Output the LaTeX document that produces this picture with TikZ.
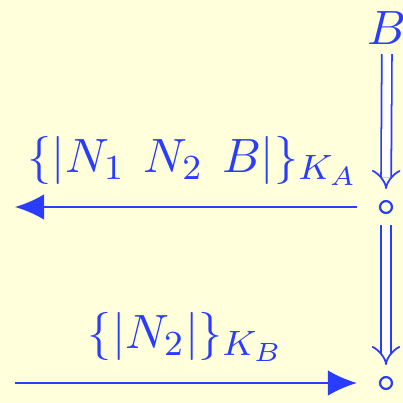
\documentclass[11pt,tikz,border=0pt]{standalone}
\usepackage{amssymb}
\usetikzlibrary{arrows.meta}
\definecolor{paperc}{HTML}{FFFFDC}
\definecolor{msgblue}{HTML}{2A3CFF}

\begin{document}
\begin{tikzpicture}[x=0.2273pt, y=-0.2273pt, msgblue,
  state/.style={circle, draw, inner sep=0pt, minimum size=2.7pt, line width=0.5pt},
  seq/.style={double, double distance=1.9pt, line width=0.4pt, -{Implies}, shorten >=2.5pt, shorten <=1pt},
  msg/.style={line width=0.45pt, -{Latex[length=6.6pt,width=5.8pt]}}]
  \fill[paperc] (0,0) rectangle (403,403);
  \useasboundingbox (0,0) rectangle (403,403);
  \node[inner sep=1pt] (b) at (387,28) {$B$};
  \node[state] (s1) at (386,207) {};
  \node[state] (s2) at (386,383) {};
  \coordinate (l1) at (15,207);
  \coordinate (l2) at (15,383);
  \draw[seq] (b) -- (s1);
  \draw[seq, shorten <=2.5pt] (s1) -- (s2);
  \draw[msg, shorten <=5pt] (s1) -- (l1) node[pos=0.51, above=1pt] {$\{|N_1\:\,N_2\:\,B|\}_{K_A}$};
  \draw[msg, shorten >=5pt] (l2) -- (s2) node[pos=0.47, above=1pt] {$\{|N_2|\}_{K_B}$};
\end{tikzpicture}
\end{document}
